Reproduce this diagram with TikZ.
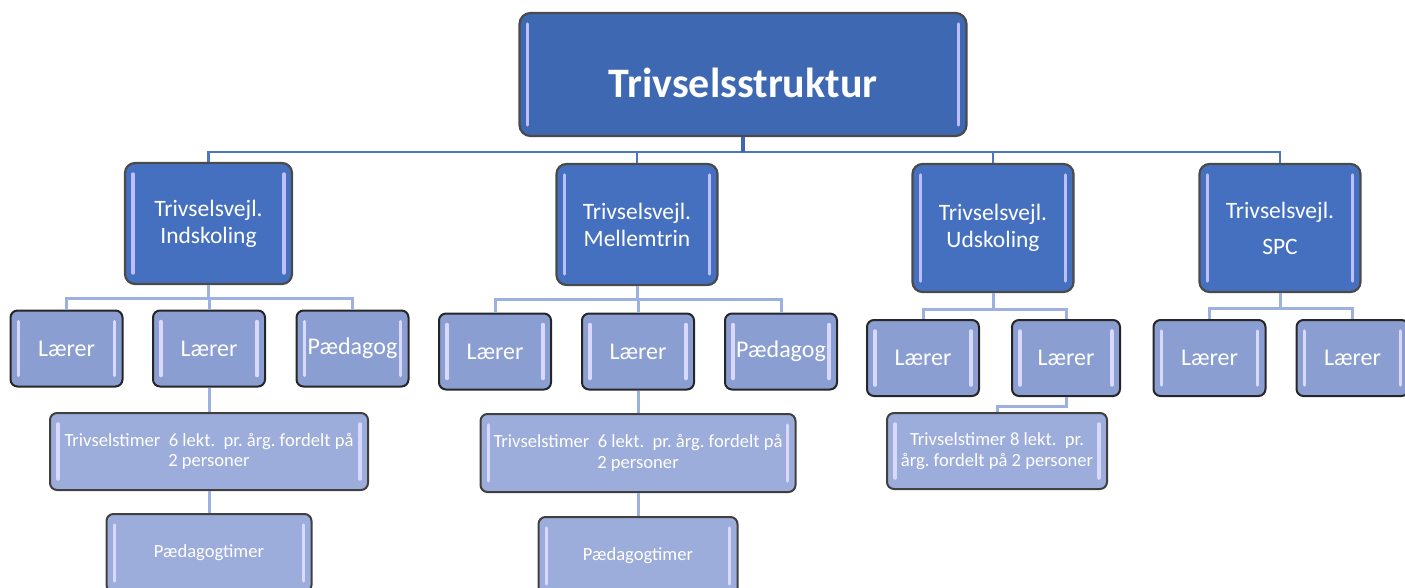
\documentclass[tikz,border=0pt]{standalone}
\usepackage{fontspec}
\setmainfont{Carlito}
\usetikzlibrary{positioning}

\definecolor{headblue}{HTML}{3F68B2}
\definecolor{leadblue}{HTML}{4570C0}
\definecolor{staffblue}{HTML}{8B9ED2}
\definecolor{hourblue}{HTML}{9DADDB}
\definecolor{busblue}{HTML}{4A76C6}
\definecolor{subblue}{HTML}{9DB1E1}
\definecolor{edgegray}{HTML}{4A4A4A}

\begin{document}
\begin{tikzpicture}[x=1pt, y=-1pt,
  shine/.style={path picture={
    \draw[#1, line width=3.5pt, line cap=round]
      ([xshift=8pt,yshift=-11pt]path picture bounding box.north west) -- ([xshift=8pt,yshift=11pt]path picture bounding box.south west)
      ([xshift=-8pt,yshift=-11pt]path picture bounding box.north east) -- ([xshift=-8pt,yshift=11pt]path picture bounding box.south east);}},
  shine/.default=white!85!blue,
  head/.style={draw=edgegray, line width=2.2pt, rounded corners=11pt, fill=headblue, text=white, inner sep=0pt,
    minimum width=447pt, minimum height=123pt, text height=47pt, text depth=0pt,
    font=\bfseries\fontsize{42}{48}\selectfont, shine=blue!25!white},
  lead/.style={draw=edgegray, line width=2.2pt, rounded corners=10pt, fill=leadblue, text=white, inner sep=0pt,
    minimum width=161pt, align=center, font=\fontsize{23.5}{27}\selectfont, shine=blue!25!white},
  staff/.style={draw=black!85, line width=2pt, rounded corners=7pt, fill=staffblue, text=white, inner sep=0pt,
    minimum width=112pt, minimum height=76pt, font=\fontsize{24}{27}\selectfont, shine},
  hours/.style={draw=black!75, line width=2pt, rounded corners=7pt, fill=hourblue, text=white, inner sep=0pt,
    minimum height=77pt, align=center, font=\fontsize{18.6}{20.5}\selectfont, shine},
  mainlink/.style={busblue, line width=2.5pt},
  titledrop/.style={headblue, line width=4.5pt},
  sublink/.style={subblue, line width=3pt},
]
\frenchspacing
\useasboundingbox (0,0) rectangle (1405,588);
\clip (0,0) rectangle (1405,588);

% Top
\node[head] (title) at (743,74.5) {Trivselsstruktur};

% Trivselsvejledere
\node[lead, minimum width=167pt, minimum height=121pt] (indsk) at (208.5,223.5) {Trivselsvejl.\\Indskoling};
\node[lead, minimum height=121pt] (mellem) at (637,224.5) {Trivselsvejl.\\Mellemtrin};
\node[lead, minimum height=128pt] (udsk) at (993,228) {Trivselsvejl.\\Udskoling};
\node[lead, minimum height=128pt] (spc) at (1280,228) {Trivselsvejl.\\[9pt]SPC};

% Indskoling
\node[staff] (indA) at (66.5,348.5) {Lærer};
\node[staff] (indB) at (209,348.5) {Lærer};
\node[staff] (indC) at (352.5,348.5) {Pædagog};
\node[hours, minimum width=318pt] (indTimer) at (209,451.5) {Trivselstimer\ \ 6 lekt.\ \ pr. årg. fordelt på\\2 personer};
\node[hours, minimum width=205pt, minimum height=78pt] (indPaed) at (209,553) {Pædagogtimer};

% Mellemtrin
\node[staff] (melA) at (495,351.5) {Lærer};
\node[staff] (melB) at (638,351.5) {Lærer};
\node[staff] (melC) at (781,351.5) {Pædagog};
\node[hours, minimum width=315pt, minimum height=78pt] (melTimer) at (638,453) {Trivselstimer\ \ 6 lekt.\ \ pr. årg. fordelt på\\2 personer};
\node[hours, minimum width=199pt, minimum height=78pt] (melPaed) at (638,556) {Pædagogtimer};

% Udskoling
\node[staff] (udsA) at (923,358) {Lærer};
\node[staff, minimum width=108pt] (udsB) at (1066,358) {Lærer};
\node[hours, minimum width=220pt, minimum height=76pt] (udsTimer) at (997,451) {Trivselstimer 8 lekt.\ \ pr.\\årg. fordelt på 2 personer};

% SPC
\node[staff] (spcA) at (1209.5,358) {Lærer};
\node[staff] (spcB) at (1352.5,358) {Lærer};

% Lines: top -> Trivselsvejledere
\draw[mainlink] (title.south) -- ++(0,15) -| (indsk.north);
\draw[mainlink] (title.south) -- ++(0,15) -| (mellem.north);
\draw[mainlink] (title.south) -- ++(0,15) -| (udsk.north);
\draw[mainlink] (title.south) -- ++(0,15) -| (spc.north);
\draw[titledrop] (title.south) -- ++(0,15);

% Lines: Indskoling
\draw[sublink] (indsk.south) -- ++(0,13) -| (indA.north);
\draw[sublink] (indsk.south) -- ++(0,13) -| (indB.north);
\draw[sublink] (indsk.south) -- ++(0,13) -| (indC.north);
\draw[sublink] (indB.south) -- (indTimer.north);
\draw[sublink] (indTimer.south) -- (indPaed.north);

% Lines: Mellemtrin
\draw[sublink] (mellem.south) -- ++(0,13) -| (melA.north);
\draw[sublink] (mellem.south) -- ++(0,13) -| (melB.north);
\draw[sublink] (mellem.south) -- ++(0,13) -| (melC.north);
\draw[sublink] (melB.south) -- (melTimer.north);
\draw[sublink] (melTimer.south) -- (melPaed.north);

% Lines: Udskoling
\draw[sublink] (udsk.south) -- ++(0,16) -| (udsA.north);
\draw[sublink] (udsk.south) -- ++(0,16) -| (udsB.north);
\draw[sublink] (udsB.south) -- ++(0,9) -| (udsTimer.north);

% Lines: SPC
\draw[sublink] (spc.south) -- ++(0,15) -| (spcA.north);
\draw[sublink] (spc.south) -- ++(0,15) -| (spcB.north);

\end{tikzpicture}
\end{document}
